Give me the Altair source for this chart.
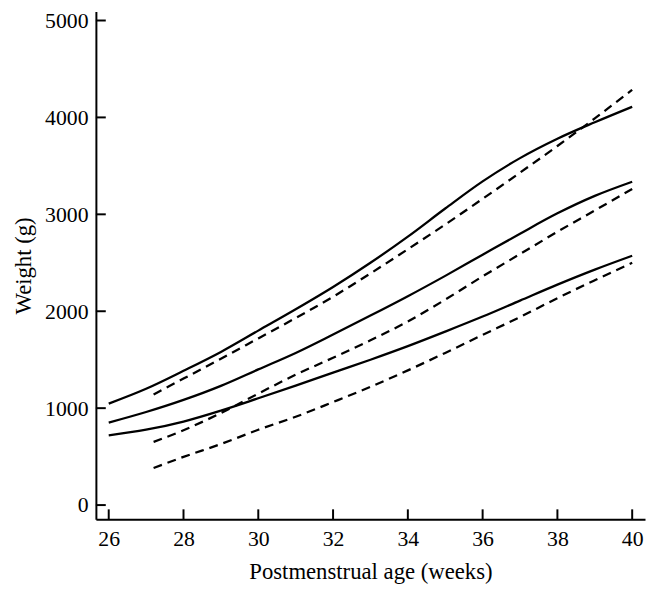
import altair as alt
import pandas as pd

# ---- data ----
weeks_solid = [26, 27, 28, 29, 30, 31, 32, 33, 34, 35, 36, 37, 38, 39, 40]
upper_solid = [1047, 1200, 1385, 1580, 1800, 2020, 2250, 2500, 2770, 3060, 3340, 3580, 3780, 3950, 4110]
middle_solid = [851, 960, 1085, 1230, 1400, 1570, 1760, 1955, 2155, 2365, 2583, 2800, 3010, 3190, 3336]
lower_solid = [720, 778, 862, 975, 1102, 1232, 1367, 1500, 1640, 1790, 1945, 2110, 2275, 2430, 2573]

weeks_dashed = [27.2, 28, 29, 30, 31, 32, 33, 34, 35, 36, 37, 38, 39, 40]
upper_dashed = [1142, 1305, 1510, 1720, 1930, 2150, 2390, 2640, 2895, 3160, 3430, 3705, 3990, 4285]
middle_dashed = [652, 772, 950, 1150, 1345, 1520, 1700, 1895, 2120, 2360, 2590, 2820, 3040, 3262]
lower_dashed = [382, 497, 630, 777, 911, 1063, 1220, 1390, 1570, 1756, 1940, 2135, 2320, 2500]

x_ticks = [26, 28, 30, 32, 34, 36, 38, 40]
y_ticks = [0, 1000, 2000, 3000, 4000, 5000]

x_title = "Postmenstrual age (weeks)"
y_title = "Weight (g)"

# ---- tables ----
rows = []
for name, vals in [("upper", upper_solid), ("middle", middle_solid), ("lower", lower_solid)]:
    for w, v in zip(weeks_solid, vals):
        rows.append({"week": w, "weight": v, "series": name + "_solid"})
solid_df = pd.DataFrame(rows)

rows = []
for name, vals in [("upper", upper_dashed), ("middle", middle_dashed), ("lower", lower_dashed)]:
    for w, v in zip(weeks_dashed, vals):
        rows.append({"week": w, "weight": v, "series": name + "_dashed"})
dashed_df = pd.DataFrame(rows)

xt_df = pd.DataFrame({"week": x_ticks})
yt_df = pd.DataFrame({"weight": y_ticks})

PLOT_W, PLOT_H = 556, 514
FONT = "Liberation Serif"

x_scale = alt.Scale(domain=[25.657, 40.343], nice=False, zero=False)
y_scale = alt.Scale(domain=[-146, 5092], nice=False, zero=False)

x_axis = alt.Axis(
    values=x_ticks, title=x_title, ticks=False, tickSize=0, grid=False,
    labelPadding=10, labelBaseline="top", labelFlush=False, format="d",
    titleX=PLOT_W / 2, titleY=60, titleBaseline="alphabetic", titleAlign="center",
)
y_axis = alt.Axis(
    values=y_ticks, title=y_title, ticks=False, tickSize=0, grid=False,
    labelPadding=8, labelFlush=False, format="d",
    titleX=-66, titleY=PLOT_H / 2, titleBaseline="alphabetic", titleAlign="center", titleAngle=270,
)

X = alt.X("week:Q", scale=x_scale, axis=x_axis, title=x_title)
Y = alt.Y("weight:Q", scale=y_scale, axis=y_axis, title=y_title)

solid = alt.Chart(solid_df).mark_line(
    color="black", strokeWidth=2.3, interpolate="monotone", strokeCap="butt"
).encode(x=X, y=Y, detail="series:N")

dashed = alt.Chart(dashed_df).mark_line(
    color="black", strokeWidth=2.3, interpolate="monotone", strokeDash=[9, 6], strokeCap="butt"
).encode(x=X, y=Y, detail="series:N")

xticks = alt.Chart(xt_df).mark_rule(color="black", strokeWidth=2).encode(
    x=X,
    y=alt.value(PLOT_H),
    y2=alt.value(PLOT_H - 10),
)

yticks = alt.Chart(yt_df).mark_rule(color="black", strokeWidth=2).encode(
    y=Y,
    x=alt.value(0),
    x2=alt.value(10),
)

chart = alt.layer(solid, dashed, xticks, yticks).properties(
    width=PLOT_W,
    height=PLOT_H,
    autosize=alt.AutoSizeParams(type="none"),
    padding={"left": 89, "top": 0, "right": 1, "bottom": 65},
).configure_view(
    stroke=None
).configure_axis(
    domainColor="black",
    domainWidth=2,
    labelFont=FONT,
    labelFontSize=22,
    labelColor="black",
    titleFont=FONT,
    titleFontSize=23,
    titleFontWeight="normal",
    titleColor="black",
)

chart.save("out.html", embed_options={"renderer": "svg", "actions": False})
